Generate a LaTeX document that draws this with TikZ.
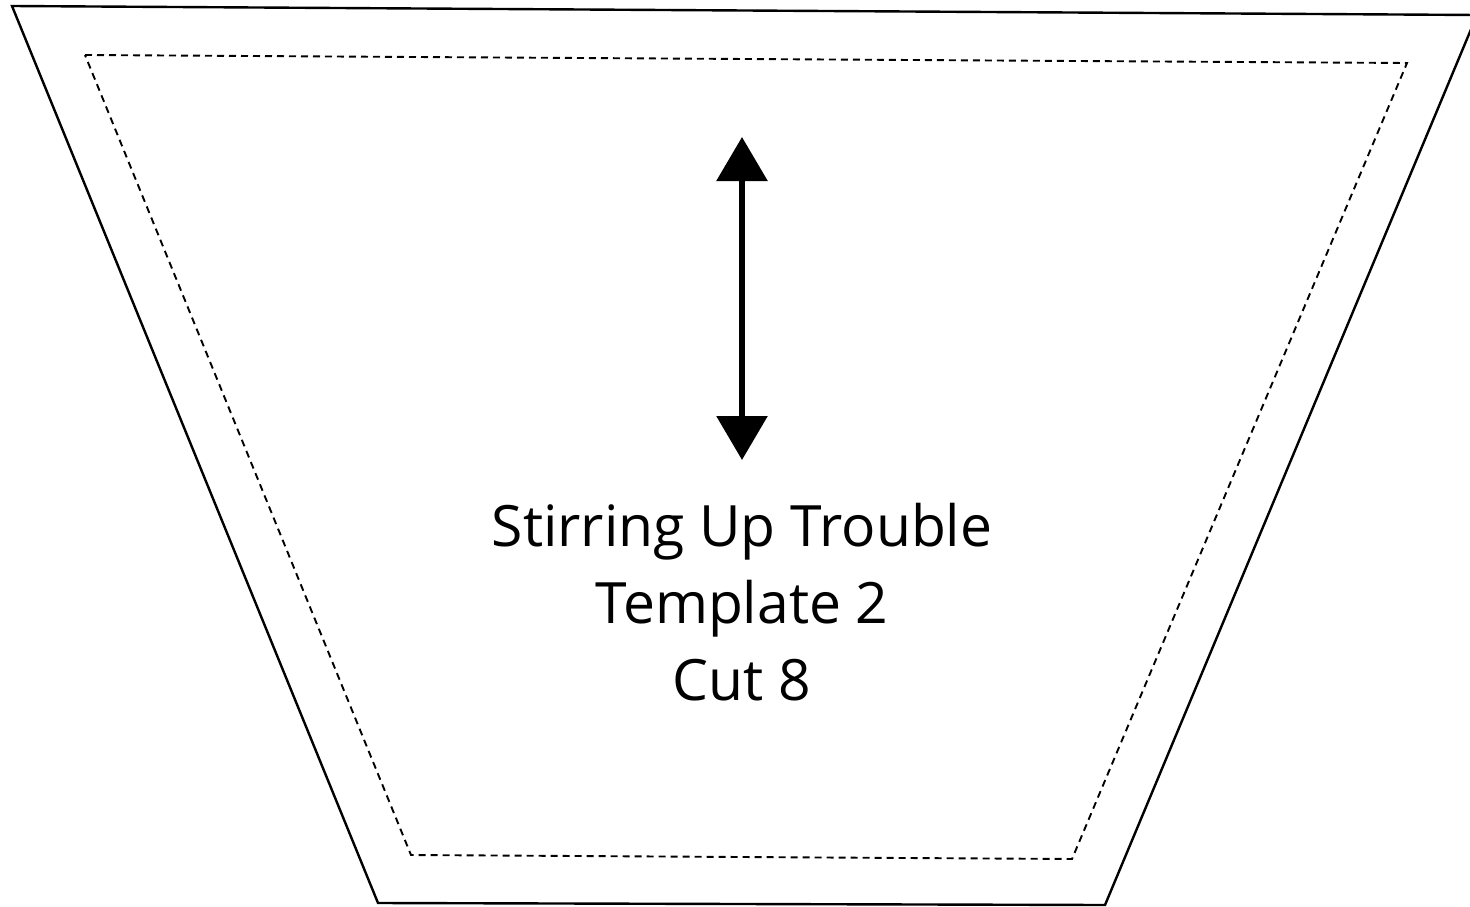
\documentclass[tikz,border=0pt]{standalone}
\usepackage{fontspec}
\setmainfont{Open Sans}
\usetikzlibrary{arrows.meta}
\begin{document}
\begin{tikzpicture}[x=1pt,y=-1pt,
  outline/.style={line width=2.4pt,line join=miter},
  seam/.style={line width=1.9pt,dash pattern=on 7pt off 5pt},
  grain/.style={line width=6pt,{Triangle[width=50pt,length=44pt]}-{Triangle[width=50pt,length=44pt]}},
  label/.style={align=center,font=\fontsize{57}{77}\selectfont,inner sep=0pt}]
\useasboundingbox (0,0) rectangle (1470,907);
\coordinate (o1) at (12,6);
\coordinate (o2) at (1477,15);
\coordinate (o3) at (1105,905);
\coordinate (o4) at (378,903);
\draw[outline] (o1) -- (o2) -- (o3) -- (o4) -- cycle;
\coordinate (i1) at (85,55);
\coordinate (i2) at (1407,63);
\coordinate (i3) at (1072,859);
\coordinate (i4) at (411,855);
\draw[seam] (i1) -- (i2) -- (i3) -- (i4) -- cycle;
\coordinate (at) at (742,137);
\coordinate (ab) at (742,460);
\draw[grain] (ab) -- (at);
\node[label,anchor=base] (t) at (742,700) {Stirring Up Trouble\\Template 2\\Cut 8};
\end{tikzpicture}
\end{document}
